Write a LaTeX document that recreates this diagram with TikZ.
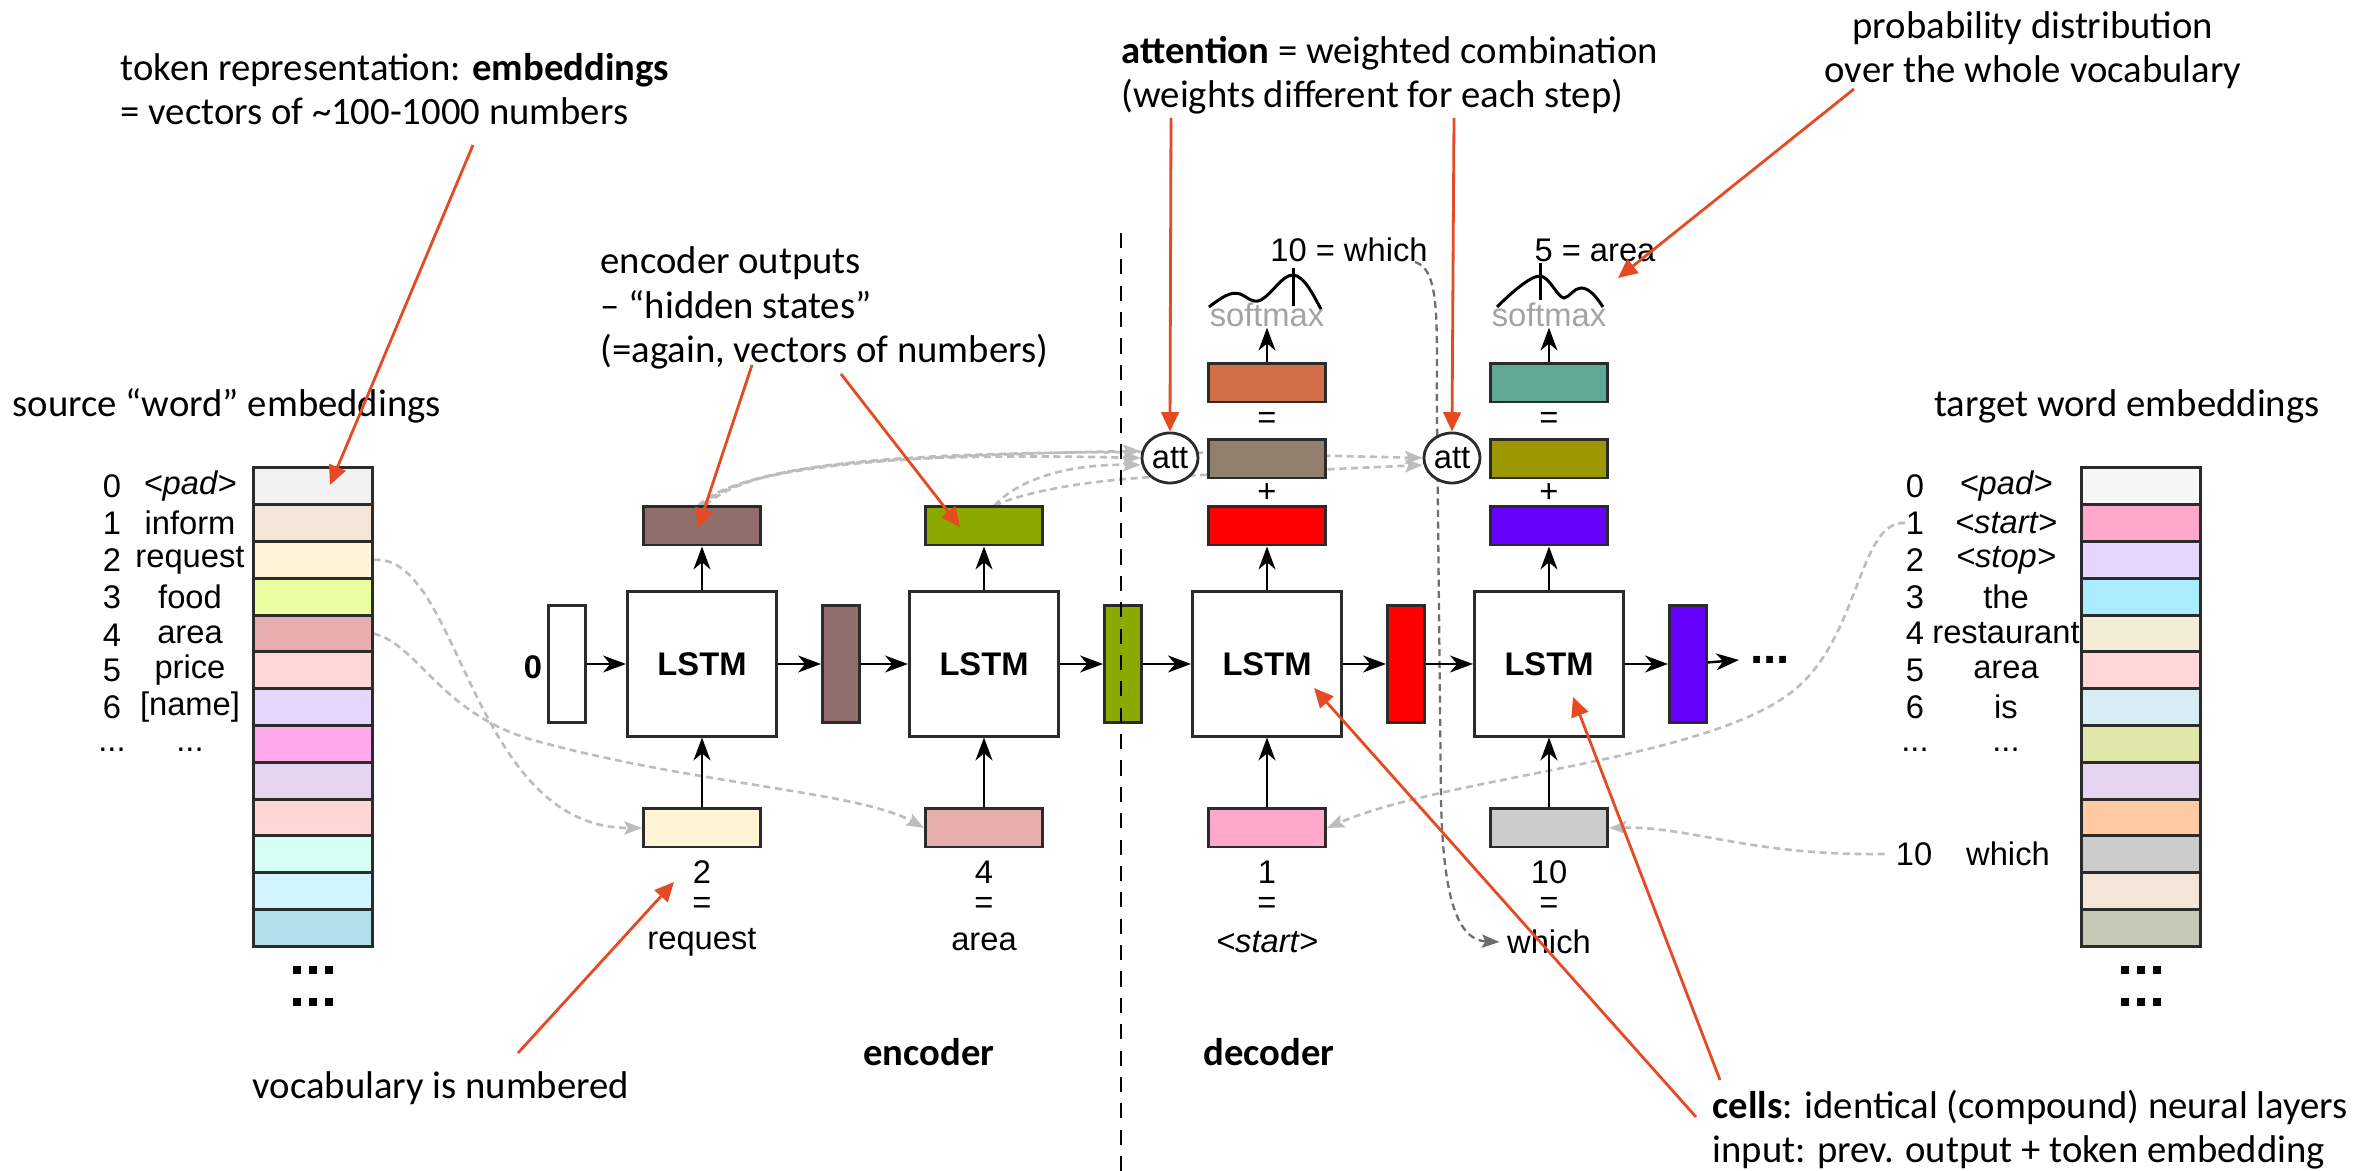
\documentclass[tikz,border=0pt]{standalone}
\usepackage{fontspec}
\setmainfont{Liberation Sans}
\newfontfamily\annfont{Carlito}
\usetikzlibrary{arrows.meta,shapes.geometric}
\pgfdeclarelayer{bg}
\pgfsetlayers{bg,main}
\definecolor{annred}{HTML}{E64A22}
\definecolor{edge}{HTML}{2B2B2B}
\definecolor{gline}{HTML}{BDBDBD}
\definecolor{dline}{HTML}{6E6E6E}
\definecolor{smgray}{HTML}{A3A3A3}
\definecolor{cEncA}{HTML}{8F6E6C}
\definecolor{cEncB}{HTML}{8BAA00}
\definecolor{cRed}{HTML}{FF0000}
\definecolor{cPurple}{HTML}{6600FF}
\definecolor{cCombA}{HTML}{937F6E}
\definecolor{cCombB}{HTML}{9C9900}
\definecolor{cOrange}{HTML}{D36E46}
\definecolor{cTeal}{HTML}{5FA893}
\definecolor{cInA}{HTML}{FFF4D6}
\definecolor{cInB}{HTML}{E8ADAD}
\definecolor{cInC}{HTML}{FFA8CB}
\definecolor{cInD}{HTML}{CCCCCC}
\tikzset{
  lbl/.style={font=\fontsize{9.3pt}{11pt}\selectfont, inner sep=0pt},
  annot/.style={font=\annfont\fontsize{11pt}{12.6pt}\selectfont, inner sep=0pt, align=left},
  annotb/.style={font=\annfont\fontsize{11pt}{12.6pt}\selectfont\bfseries, inner sep=0pt},
  hbox/.style={draw=edge, line width=0.85pt, minimum width=1.17cm, minimum height=0.38cm, inner sep=0pt},
  vbx/.style={draw=edge, line width=0.85pt, minimum width=0.37cm, minimum height=1.16cm, inner sep=0pt},
  vrow/.style={draw=edge, line width=0.85pt, minimum width=1.18cm, minimum height=0.368cm, inner sep=0pt},
  cell/.style={draw=edge, line width=0.85pt, fill=white, minimum width=1.49cm, minimum height=1.44cm, inner sep=0pt, font=\fontsize{9.3pt}{11pt}\selectfont\bfseries},
  attn/.style={ellipse, draw=edge, line width=0.8pt, fill=white, minimum width=0.56cm, minimum height=0.5cm, inner sep=0pt, font=\fontsize{9.3pt}{11pt}\selectfont},
  arr/.style={draw=black, line width=0.7pt, -{Stealth[length=6.5pt,width=4.8pt,inset=2pt]}},
  redarr/.style={draw=annred, line width=0.8pt, -{Triangle[length=5.5pt,width=5pt]}},
  gdash/.style={draw=gline, line width=0.75pt, dash pattern=on 2pt off 1.3pt, -{Stealth[length=5pt,width=3.8pt,inset=1pt]}},
  ddash/.style={draw=dline, line width=0.65pt, dash pattern=on 2pt off 1.3pt, -{Stealth[length=5pt,width=3.8pt,inset=1pt]}},
  sepline/.style={draw=black, line width=0.8pt, dash pattern=on 4.3pt off 3.2pt},
  bigdots/.style={font=\fontsize{13.5pt}{14pt}\selectfont\bfseries, inner sep=0pt},
  sqdot/.style={fill=black},
  smx/.style={font=\fontsize{9.3pt}{11pt}\selectfont, text=smgray, inner sep=0pt},
  dist/.style={draw=black, line width=0.85pt},
}
\begin{document}
\begin{tikzpicture}[x=0.01cm,y=-0.01cm]
\useasboundingbox (0,0) rectangle (2377,1171);

% ---------------- vocabulary columns ----------------
\foreach \colhex [count=\ri from 0] in {F2F2F2,F3E5D8,FFF4D6,EAFFA0,E8ADAD,FFD7D9,E6D5FD,FFA8EC,E5D5F0,FFD7D9,D5FFF2,D3F5FD,B0DEEA}{
  \definecolor{rowc}{HTML}{\colhex}
  \node[vrow, fill=rowc] (L\ri) at (313,{486.4+36.8*\ri}) {};
}
\foreach \colhex [count=\ri from 0] in {F7F7F7,FFA8CB,E6D5FD,AAEDFD,F3EDD7,FFD7D9,D8EDF3,DFE8AA,E5D5F0,FFCBA4,CCCCCC,F3E5D8,C5C9B6}{
  \definecolor{rowc}{HTML}{\colhex}
  \node[vrow, fill=rowc] (R\ri) at (2141,{486.4+36.8*\ri}) {};
}
% continuation marks below the columns
\foreach \cx in {313,2141}{
  \foreach \dy in {970,1002}{
    \foreach \dx in {-16,0,16}{
      \fill[sqdot] ({\cx+\dx-4},{\dy-4}) rectangle ({\cx+\dx+4},{\dy+4});
    }
  }
}

% left labels
\node[lbl] (ln0) at (112,486) {0}; \node[lbl] (lw0) at (190,486) {\textit{<pad>}};
\node[lbl] (ln1) at (112,523) {1}; \node[lbl] (lw1) at (190,523) {inform};
\node[lbl] (ln2) at (112,560) {2}; \node[lbl] (lw2) at (190,560) {request};
\node[lbl] (ln3) at (112,597) {3}; \node[lbl] (lw3) at (190,597) {food};
\node[lbl] (ln4) at (112,635) {4}; \node[lbl] (lw4) at (190,635) {area};
\node[lbl] (ln5) at (112,670) {5}; \node[lbl] (lw5) at (190,670) {price};
\node[lbl] (ln6) at (112,707) {6}; \node[lbl] (lw6) at (190,707) {[name]};
\node[lbl] (ln7) at (112,750) {...}; \node[lbl] (lw7) at (190,750) {...};

% right labels
\node[lbl] (rn0) at (1915,486) {0}; \node[lbl] (rw0) at (2006,486) {\textit{<pad>}};
\node[lbl] (rn1) at (1915,523) {1}; \node[lbl] (rw1) at (2006,523) {\textit{<start>}};
\node[lbl] (rn2) at (1915,560) {2}; \node[lbl] (rw2) at (2006,560) {\textit{<stop>}};
\node[lbl] (rn3) at (1915,597) {3}; \node[lbl] (rw3) at (2006,597) {the};
\node[lbl] (rn4) at (1915,633) {4}; \node[lbl] (rw4) at (2006,633) {restaurant};
\node[lbl] (rn5) at (1915,670) {5}; \node[lbl] (rw5) at (2006,670) {area};
\node[lbl] (rn6) at (1915,707) {6}; \node[lbl] (rw6) at (2006,707) {is};
\node[lbl] (rn7) at (1915,750) {...}; \node[lbl] (rw7) at (2006,750) {...};
\node[lbl] (rn10) at (1914,854) {10}; \node[lbl] (rw10) at (2008,854) {which};

% ---------------- main recurrent row ----------------
\node[lbl, font=\fontsize{9.3pt}{11pt}\selectfont\bfseries] (zero) at (533,667) {0};
\node[vbx, fill=white] (init) at (567,664) {};
\node[cell] (lstm1) at (702,664) {LSTM};
\node[vbx, fill=cEncA] (h1) at (841,664) {};
\node[cell] (lstm2) at (984,664) {LSTM};
\node[vbx, fill=cEncB] (h2) at (1123,664) {};
\node[cell] (lstm3) at (1267,664) {LSTM};
\node[vbx, fill=cRed] (h3) at (1406,664) {};
\node[cell] (lstm4) at (1549,664) {LSTM};
\node[vbx, fill=cPurple] (h4) at (1688,664) {};
\node[bigdots] (more) at (1770,660) {...};

% inputs
\node[hbox, fill=cInA] (in1) at (702,828) {};
\node[hbox, fill=cInB] (in2) at (984,828) {};
\node[hbox, fill=cInC] (in3) at (1267,828) {};
\node[hbox, fill=cInD] (in4) at (1549,828) {};
\node[lbl] (n1) at (702,872) {2};  \node[lbl] (e1) at (702,905) {=}; \node[lbl] (w1) at (702,942) {request};
\node[lbl] (n2) at (984,872) {4};  \node[lbl] (e2) at (984,905) {=}; \node[lbl] (w2) at (984,942) {area};
\node[lbl] (n3) at (1267,872) {1}; \node[lbl] (e3) at (1267,905) {=}; \node[lbl] (w3) at (1267,942) {\textit{<start>}};
\node[lbl] (n4) at (1549,872) {10}; \node[lbl] (e4) at (1549,905) {=}; \node[lbl] (w4) at (1549,942) {which};

% encoder outputs
\node[hbox, fill=cEncA] (o1) at (702,526) {};
\node[hbox, fill=cEncB] (o2) at (984,526) {};

% decoder stacks
\node[hbox, fill=cRed] (d1a) at (1267,526) {};
\node[lbl] (p1) at (1267,493) {+};
\node[hbox, fill=cCombA] (d1b) at (1267,459) {};
\node[lbl] (q1) at (1267,420) {=};
\node[hbox, fill=cOrange] (d1c) at (1267,383) {};
\node[smx] (sm1) at (1267,315) {softmax};
\node[hbox, fill=cPurple] (d2a) at (1549,526) {};
\node[lbl] (p2) at (1549,493) {+};
\node[hbox, fill=cCombB] (d2b) at (1549,459) {};
\node[lbl] (q2) at (1549,420) {=};
\node[hbox, fill=cTeal] (d2c) at (1549,383) {};
\node[smx] (sm2) at (1549,315) {softmax};
\node[lbl] (pred1) at (1349,250) {10 = which};
\node[lbl] (pred2) at (1595,250) {5 = area};

\node[attn] (att1) at (1170,458) {att};
\node[attn] (att2) at (1452,458) {att};

% distribution sketches
\draw[dist] (1209,307) .. controls (1222,297) and (1231,291) .. (1240,294) .. controls (1248,297) and (1252,304) .. (1261,300) .. controls (1273,293) and (1282,275) .. (1293,275) .. controls (1305,276) and (1314,297) .. (1321,309);
\draw[dist] (1293,268) -- (1293,306);
\draw[dist] (1497,307) .. controls (1510,294) and (1530,276) .. (1540,276) .. controls (1550,277) and (1557,297) .. (1564,298) .. controls (1570,297) and (1574,288) .. (1581,288) .. controls (1590,288) and (1597,298) .. (1603,307);
\draw[dist] (1540,263) -- (1540,300);

% black arrows
\draw[arr] (init) -- (lstm1);
\draw[arr] (lstm1) -- (h1);
\draw[arr] (h1) -- (lstm2);
\draw[arr] (lstm2) -- (h2);
\draw[arr] (h2) -- (lstm3);
\draw[arr] (lstm3) -- (h3);
\draw[arr] (h3) -- (lstm4);
\draw[arr] (lstm4) -- (h4);
\draw[arr] (h4) -- ([xshift=-3pt]more.west);
\draw[arr] (in1) -- (lstm1);
\draw[arr] (in2) -- (lstm2);
\draw[arr] (in3) -- (lstm3);
\draw[arr] (in4) -- (lstm4);
\draw[arr] (lstm1) -- (o1);
\draw[arr] (lstm2) -- (o2);
\draw[arr] (lstm3) -- (d1a);
\draw[arr] (lstm4) -- (d2a);
\draw[arr] (d1c) -- (sm1);
\draw[arr] (d2c) -- (sm2);

% dashed connectors behind
\coordinate (whichTop) at (1415,262);
\begin{pgfonlayer}{bg}
\draw[gdash] ([xshift=-1pt]o1.north) .. controls (735,470) and (860,456) .. ([yshift=2pt]att1.west);
\draw[gdash] (o1.north) .. controls (742,466) and (880,452) .. (att1.west);
\draw[gdash] ([xshift=1pt]o1.north) .. controls (750,462) and (900,452) .. (1170,452) -- (att2.west);
\draw[gdash] ([xshift=3pt]o2.north) .. controls (1020,478) and (1070,464) .. ([yshift=-2pt]att1.west);
\draw[gdash] ([xshift=3pt]o2.north) .. controls (1030,490) and (1100,478) .. (1180,476) -- ([yshift=-2pt]att2.west);
\draw[gdash] (L2.east) .. controls (460,552) and (470,828) .. (in1.west);
\draw[gdash] (L4.east) .. controls (420,645) and (440,716) .. (540,742) .. controls (700,785) and (860,792) .. (in2.west);
\draw[gdash] (rn1.west) .. controls (1860,520) and (1860,630) .. (1800,685) .. controls (1720,760) and (1450,775) .. (in3.east);
\draw[gdash] ([xshift=-3pt]rn10.west) .. controls (1750,856) and (1690,826) .. (in4.east);
\draw[ddash] (whichTop) .. controls (1442,270) and (1436,330) .. (1437,420) -- (1441,800) .. controls (1443,890) and (1455,940) .. ([xshift=-2pt]w4.west);
\end{pgfonlayer}

% encoder / decoder separator
\coordinate (sepTop) at (1121,233);
\coordinate (sepBot) at (1121,1171);
\draw[sepline] (sepTop) -- (sepBot);

% ---------------- annotations ----------------
\node[annot, anchor=west] (tokrep) at (120,89) {token representation: \textbf{embeddings}\\= vectors of \textasciitilde100-1000 numbers};
\node[annot, anchor=west] (srcemb) at (12,406) {source “word” embeddings};
\node[annot] (tgtemb) at (2127,406) {target word embeddings};
\node[annot, anchor=west] (encout) at (600,308) {encoder outputs\\– “hidden states”\\(=again, vectors of numbers)};
\node[annot, anchor=west] (attnote) at (1121,75) {\textbf{attention} = weighted combination\\(weights different for each step)};
\node[annot, align=center] (probnote) at (2033,50) {probability distribution\\over the whole vocabulary};
\node[annot, anchor=west] (vocnote) at (252,1088) {vocabulary is numbered};
\node[annotb] (enclbl) at (929,1052) {encoder};
\node[annotb] (declbl) at (1269,1052) {decoder};
\node[annot, anchor=west] (cellnote) at (1712,1130) {\textbf{cells}: identical (compound) neural layers\\input: prev. output + token embedding};

% red pointer arrows
\coordinate (embS) at (473,145);   \coordinate (embT) at (330,485);
\coordinate (vocS) at (518,1053);  \coordinate (vocT) at (674,882);
\coordinate (eoS1) at (752,365);   \coordinate (eoT1) at (698,528);
\coordinate (eoS2) at (841,374);   \coordinate (eoT2) at (960,527);
\coordinate (atS1) at (1171,118);
\coordinate (atS2) at (1454,118);
\coordinate (prS) at (1854,89);    \coordinate (prT) at (1618,278);
\coordinate (ceS1) at (1720,1080); \coordinate (ceT1) at (1573,697);
\coordinate (ceS2) at (1696,1117); \coordinate (ceT2) at (1314,688);
\draw[redarr] (embS) -- (embT);
\draw[redarr] (vocS) -- (vocT);
\draw[redarr] (eoS1) -- (eoT1);
\draw[redarr] (eoS2) -- (eoT2);
\draw[redarr] (atS1) -- (att1.north);
\draw[redarr] (atS2) -- (att2.north);
\draw[redarr] (prS) -- (prT);
\draw[redarr] (ceS1) -- (ceT1);
\draw[redarr] (ceS2) -- (ceT2);
\end{tikzpicture}
\end{document}
